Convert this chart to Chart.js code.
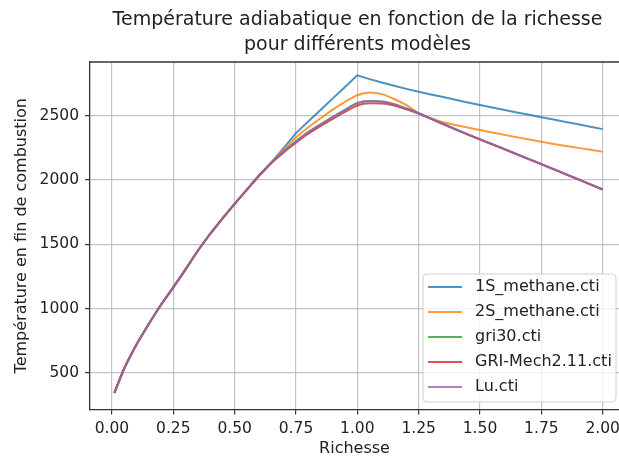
<!DOCTYPE html>
<html>
<head>
<meta charset="utf-8">
<script src="https://cdn.jsdelivr.net/npm/chart.js@4.4.1/dist/chart.umd.min.js"></script>
<style>
  html, body { margin: 0; padding: 0; background: #fff; }
  canvas { display: block; }
</style>
</head>
<body>
<canvas id="chart" width="619" height="459"></canvas>
<script>
// richesse (equivalence ratio) sampled points
const richesse = [0.01, 0.05, 0.10, 0.15, 0.20, 0.25, 0.30, 0.35, 0.40, 0.45,
                  0.50, 0.55, 0.60, 0.65, 0.70, 0.75, 0.80, 0.85, 0.90, 0.95,
                  1.00, 1.05, 1.10, 1.15, 1.20, 1.25, 1.30, 1.35, 1.40, 1.45,
                  1.50, 1.55, 1.60, 1.65, 1.70, 1.75, 1.80, 1.85, 1.90, 1.95, 2.00];

const t1S = [345, 535, 720, 880, 1030, 1165, 1305, 1450, 1580, 1700,
             1815, 1925, 2035, 2138, 2250, 2365, 2455, 2545, 2635, 2724,
             2814, 2785, 2758, 2733, 2709, 2687, 2665, 2645, 2624, 2603,
             2583, 2564, 2545, 2526, 2507, 2488, 2470, 2451, 2433, 2414, 2396];

const t2S = [345, 535, 720, 880, 1030, 1165, 1305, 1450, 1580, 1700,
             1815, 1925, 2035, 2138, 2235, 2330, 2410, 2480, 2548, 2608,
             2659, 2680, 2668, 2630, 2582, 2521, 2480, 2449, 2428, 2408,
             2389, 2370, 2351, 2333, 2315, 2298, 2281, 2265, 2250, 2235, 2220];

const tGri30 = [345, 535, 720, 880, 1030, 1165, 1305, 1450, 1580, 1700,
                1815, 1925, 2035, 2135, 2221, 2301, 2372, 2433, 2491, 2546,
                2599, 2615, 2611, 2590, 2556, 2519, 2477, 2436, 2395, 2355,
                2316, 2278, 2240, 2201, 2162, 2124, 2085, 2045, 2006, 1966, 1927];

const tGriMech211 = [345, 535, 720, 880, 1030, 1165, 1305, 1450, 1580, 1700,
                     1815, 1925, 2035, 2133, 2215, 2290, 2360, 2420, 2476, 2530,
                     2580, 2597, 2596, 2580, 2550, 2516, 2476, 2435, 2394, 2354,
                     2315, 2277, 2239, 2200, 2161, 2123, 2084, 2044, 2005, 1965, 1926];

const tLu = [345, 535, 720, 880, 1030, 1165, 1305, 1450, 1580, 1700,
             1815, 1925, 2035, 2135, 2220, 2300, 2372, 2432, 2490, 2545,
             2598, 2614, 2610, 2590, 2556, 2519, 2477, 2436, 2395, 2355,
             2316, 2278, 2240, 2201, 2162, 2124, 2085, 2045, 2006, 1966, 1927];

const seriesNames = ['1S_methane.cti', '2S_methane.cti', 'gri30.cti', 'GRI-Mech2.11.cti', 'Lu.cti'];
const seriesValues = [t1S, t2S, tGri30, tGriMech211, tLu];

const xTicks = [0, 0.25, 0.5, 0.75, 1.0, 1.25, 1.5, 1.75, 2.0];
const yTicks = [500, 1000, 1500, 2000, 2500];

const titleLines = ['Température adiabatique en fonction de la richesse', 'pour différents modèles'];

const colors = [
    'rgba(31,119,180,0.8)',
    'rgba(255,127,14,0.8)',
    'rgba(44,160,44,0.8)',
    'rgba(214,39,40,0.8)',
    'rgba(148,103,189,0.8)'
];

const FONT = '"DejaVu Sans", sans-serif';
const TEXT = '#222';
const SPINE = '#333';
const GRID = 'rgba(176,176,176,0.75)';

function toPoints(values) {
    return richesse.map((r, i) => ({ x: r, y: values[i] }));
}

// title and top spine, drawn like matplotlib (centered on the axes)
const titlePlugin = {
    id: 'mplTitle',
    afterDraw(chart) {
        const { ctx, chartArea } = chart;
        const cx = (chartArea.left + chartArea.right) / 2 + 3;
        ctx.save();
        ctx.font = '19px ' + FONT;
        ctx.fillStyle = TEXT;
        ctx.textAlign = 'center';
        ctx.textBaseline = 'middle';
        ctx.fillText(titleLines[0], cx, chartArea.top - 42);
        ctx.fillText(titleLines[1], cx, chartArea.top - 17);

        ctx.strokeStyle = SPINE;
        ctx.lineWidth = 1.3;
        ctx.beginPath();
        ctx.moveTo(chartArea.left, chartArea.top);
        ctx.lineTo(chartArea.right, chartArea.top);
        ctx.stroke();
        ctx.restore();
    }
};

// legend box in the lower right corner of the axes
const legendPlugin = {
    id: 'mplLegend',
    afterDatasetsDraw(chart) {
        const { ctx, chartArea } = chart;
        const w = 193, h = 128;
        const right = chartArea.right - 3;
        const bottom = chartArea.bottom - 7.5;
        const left = right - w;
        const top = bottom - h;

        ctx.save();
        ctx.beginPath();
        ctx.roundRect(left, top, w, h, 4);
        ctx.fillStyle = 'rgba(255,255,255,0.8)';
        ctx.fill();
        ctx.strokeStyle = '#d0d0d0';
        ctx.lineWidth = 1;
        ctx.stroke();

        ctx.font = '16px ' + FONT;
        ctx.textBaseline = 'middle';
        ctx.textAlign = 'left';
        chart.data.datasets.forEach((ds, i) => {
            const y = top + 13 + i * 25;
            ctx.strokeStyle = ds.borderColor;
            ctx.lineWidth = 2.2;
            ctx.beginPath();
            ctx.moveTo(left + 5, y);
            ctx.lineTo(left + 39, y);
            ctx.stroke();
            ctx.fillStyle = TEXT;
            ctx.fillText(ds.label, left + 52, y);
        });
        ctx.restore();
    }
};

const canvas = document.getElementById('chart');
const config = {
    type: 'line',
    data: {
        datasets: seriesNames.map((name, i) => ({
            label: name,
            data: toPoints(seriesValues[i]),
            borderColor: colors[i],
            backgroundColor: colors[i],
            borderWidth: 2,
            pointRadius: 0,
            tension: 0,
            // 1S has a sharp peak at 1.0, the others are smooth curves
            cubicInterpolationMode: i === 0 ? 'default' : 'monotone',
            fill: false,
            order: seriesNames.length - i,
        }))
    },
    options: {
        responsive: false,
        animation: false,
        layout: { padding: { top: 62, left: 0, right: 0, bottom: 0 } },
        plugins: {
            legend: { display: false },
            tooltip: { enabled: false },
            title: { display: false },
        },
        scales: {
            x: {
                type: 'linear',
                min: -0.0895,
                max: 2.0665,
                afterBuildTicks: s => { s.ticks = xTicks.map(v => ({ value: v })); },
                afterFit: s => {
                    s.height = 49.5;
                    // the plot runs right up to the image edge, like the cropped original
                    s.paddingLeft = 0;
                    s.paddingRight = 0;
                },
                grid: { color: GRID, lineWidth: 1.2, tickLength: 5, tickColor: SPINE, tickWidth: 1.2 },
                border: { color: SPINE, width: 1.3 },
                ticks: {
                    padding: 5,
                    color: TEXT,
                    font: { family: FONT, size: 15.5 },
                    maxRotation: 0,
                    autoSkip: false,
                    callback: v => Number(v).toFixed(2),
                },
                title: {
                    display: true,
                    text: 'Richesse',
                    color: TEXT,
                    font: { family: FONT, size: 16 },
                    padding: { top: 0, bottom: 0.5 },
                },
            },
            y: {
                min: 215,
                max: 2918,
                afterBuildTicks: s => { s.ticks = yTicks.map(v => ({ value: v })); },
                afterFit: s => { s.width = 90; },
                grid: { color: GRID, lineWidth: 1.2, tickLength: 5, tickColor: SPINE, tickWidth: 1.2 },
                border: { color: SPINE, width: 1.3 },
                ticks: {
                    padding: 6,
                    color: TEXT,
                    font: { family: FONT, size: 15.5 },
                    callback: v => String(v),
                },
                title: {
                    display: true,
                    text: 'Température en fin de combustion',
                    color: TEXT,
                    font: { family: FONT, size: 16 },
                    padding: { top: 12.4, bottom: 0 },
                },
            },
        },
    },
    plugins: [legendPlugin, titlePlugin],
};

new Chart(canvas, config);
</script>
</body>
</html>
